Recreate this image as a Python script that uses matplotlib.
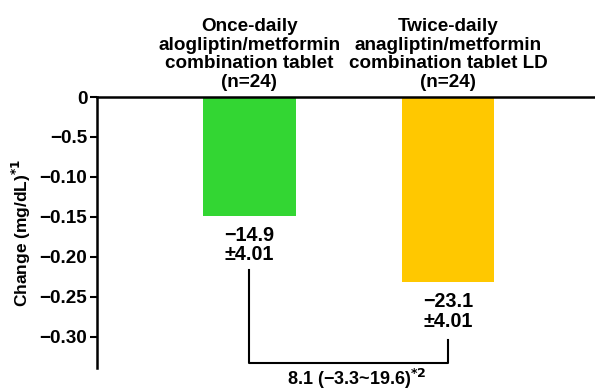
import matplotlib
matplotlib.use("Agg")
import matplotlib.pyplot as plt

plt.rcParams["font.family"] = ["Liberation Sans", "DejaVu Sans"]
plt.rcParams["font.weight"] = "bold"
plt.rcParams["mathtext.default"] = "bf"

groups = ["Once-daily\nalogliptin/metformin\ncombination tablet\n(n=24)",
          "Twice-daily\nanagliptin/metformin\ncombination tablet LD\n(n=24)"]
values = [-0.149, -0.232]
value_labels = ["\u221214.9\n\u00b14.01", "\u221223.1\n\u00b14.01"]
colors = ["#33d633", "#ffc800"]
yticks = [0, -0.05, -0.10, -0.15, -0.20, -0.25, -0.30]
ytick_labels = ["0", "\u22120.5", "\u22120.10", "\u22120.15", "\u22120.20", "\u22120.25", "\u22120.30"]
diff_label = "8.1 (\u22123.3~19.6)$^{*2}$"

fig = plt.figure(figsize=(5.95, 3.91), dpi=100)
ax = fig.add_axes([97 / 595, 1 - 368 / 391, 1 - 97 / 595, (368 - 97) / 391])

x = [0, 1]
ax.bar(x, values, width=0.467, color=colors, zorder=2)
ax.set_xlim(-0.766, 1.74)
ax.set_ylim(-0.339, 0)

for s in ["right", "bottom"]:
    ax.spines[s].set_visible(False)
ax.spines["left"].set_linewidth(1.8)
ax.spines["top"].set_linewidth(1.8)
ax.set_xticks([])
ax.set_yticks(yticks)
ax.set_yticklabels(ytick_labels, fontsize=13.6, fontweight="bold")
ax.tick_params(axis="y", length=5, width=1.5, pad=2)
ax.set_ylabel("Change (mg/dL)$^{*1}$", fontsize=12.5, fontweight="bold", labelpad=5)

# group headers above the zero line
for xi, g in zip(x, groups):
    ax.text(xi, 0.007, g, ha="center", va="bottom", fontsize=13.6, fontweight="bold",
            linespacing=1.15, clip_on=False)

# value labels under each bar
for xi, v, lab in zip(x, values, value_labels):
    ax.text(xi, v - 0.012, lab, ha="center", va="top", fontsize=14.2, fontweight="bold",
            linespacing=1.04)

# comparison bracket
y_left = -0.217
y_right = -0.304
y_bot = -0.333
ax.plot([0, 0, 1, 1], [y_left, y_bot, y_bot, y_right], color="black", lw=1.5,
        clip_on=False)
ax.text(0.54, y_bot - 0.004, diff_label, ha="center", va="top", fontsize=13,
        fontweight="bold", clip_on=False)

fig.savefig("out.png", dpi=100)
